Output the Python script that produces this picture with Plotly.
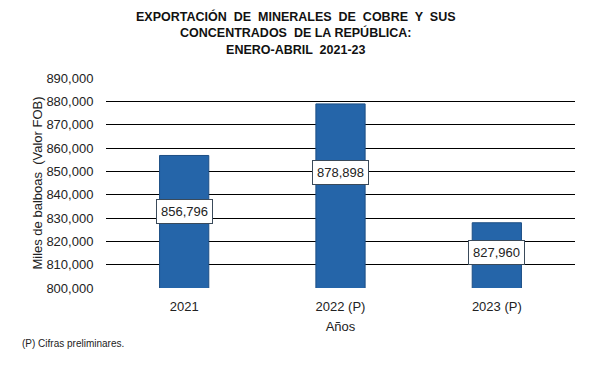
import plotly.graph_objects as go

categories = ["2021", "2022 (P)", "2023 (P)"]
values = [856796, 878898, 827960]
label_y = [832600, 849700, 815400]
tick_vals = [800000, 810000, 820000, 830000, 840000, 850000, 860000, 870000, 880000, 890000]

xpos = list(range(len(categories)))

fig = go.Figure()
fig.add_trace(go.Bar(
    x=xpos, y=values, width=0.315,
    marker=dict(color="#2565a9", line=dict(color="#1d4f85", width=1)),
    hoverinfo="skip",
))

for xp, v, ly in zip(xpos, values, label_y):
    fig.add_annotation(
        x=xp, y=ly, text=f"{v:,}", showarrow=False,
        font=dict(family="Liberation Sans, Arial", size=13, color="#222222"),
        bgcolor="white", bordercolor="#3a4a5a", borderwidth=1, borderpad=4,
    )

fig.add_annotation(
    xref="paper", yref="paper", x=-0.183, y=-0.262, xanchor="left", yanchor="middle",
    text="(P) Cifras preliminares.", showarrow=False,
    font=dict(family="Liberation Sans, Arial", size=10, color="#222222"),
)

fig.add_annotation(
    xref="paper", yref="paper", x=0.405, y=1.336, xanchor="center", yanchor="top",
    text="<b>EXPORTACIÓN  DE  MINERALES  DE  COBRE  Y  SUS<br>CONCENTRADOS  DE LA REPÚBLICA:<br>ENERO-ABRIL  2021-23</b>",
    showarrow=False, align="center",
    font=dict(family="Liberation Sans, Arial", size=12.5, color="#111111"),
)

fig.update_layout(
    width=582, height=357,
    margin=dict(l=98, r=15, t=70, b=77, autoexpand=False),
    paper_bgcolor="white", plot_bgcolor="white",
    showlegend=False,
    font=dict(family="Liberation Sans, Arial", size=13, color="#222222"),
)
fig.update_xaxes(
    range=[-0.5, 2.5], tickvals=xpos, ticktext=categories,
    showgrid=False, showline=False, zeroline=False,
    ticks="outside", ticklen=6, tickcolor="rgba(0,0,0,0)",
    title=dict(text="Años", standoff=9, font=dict(size=13)),
    tickfont=dict(size=13),
)
fig.update_yaxes(
    range=[800000, 890000], tickvals=tick_vals, tickformat=",",
    showgrid=True, gridcolor="#000000", gridwidth=1,
    zeroline=False, showline=False,
    ticks="outside", ticklen=9, tickcolor="rgba(0,0,0,0)",
    title=dict(text="Miles de balboas  (Valor FOB)", standoff=0, font=dict(size=13)),
    tickfont=dict(size=13),
)

fig.write_html("out.html")
